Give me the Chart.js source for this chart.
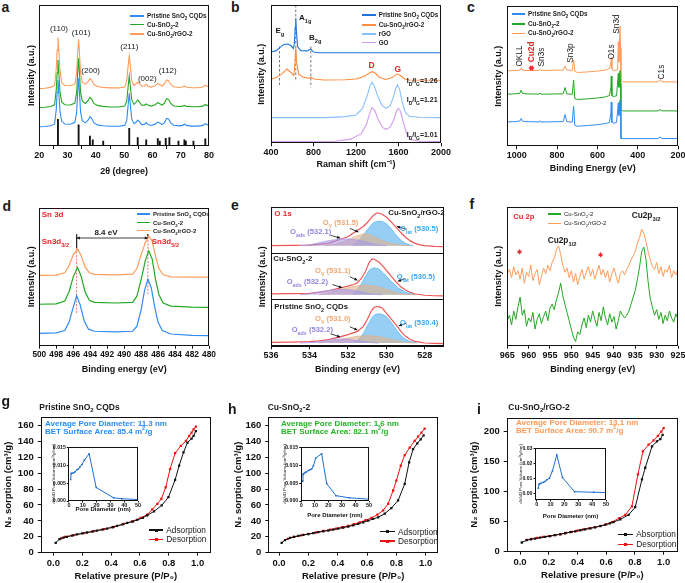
<!DOCTYPE html>
<html>
<head>
<meta charset="utf-8">
<script src="https://cdn.jsdelivr.net/npm/chart.js@4.4.1/dist/chart.umd.min.js"></script>
<style>
  body { margin:0; width:685px; height:583px; position:relative; overflow:hidden; background:#fff;
         font-family:"Liberation Sans", Arial, sans-serif; }
  canvas { position:absolute; }
  .t { position:absolute; white-space:nowrap; line-height:1; color:#1a1a1a; }
  .t sub, .t sup { font-size:70%; line-height:0; }
  .ln { position:absolute; height:1.3px; }
  .mk { position:absolute; width:3px; height:3px; }
</style>
</head>
<body>
<script>
// ---------- a: XRD ----------
const aTicks = [20, 30, 40, 50, 60, 70, 80];
const aBlue = [[20,13.6],[22,13.8],[24,14.3],[25.4,15.5],[26.0,26],[26.3,38],[26.6,46.8],[26.9,38],[27.3,25],[27.9,17.5],[29,15.6],[31,15.4],[32.6,16.8],[33.2,24],[33.6,39],[33.9,48],[34.2,38],[34.6,24],[35.2,18],[36.3,16.4],[37.3,18.5],[37.9,20.8],[38.5,19.6],[39.3,16.5],[40.5,15],[42.5,14.4],[45,14],[48,14],[50.2,14.6],[50.9,18],[51.4,29],[51.8,37.4],[52.2,29],[52.7,19],[53.5,15.8],[54.3,17],[54.8,18.4],[55.4,17.3],[56.2,15.2],[57.2,15.3],[57.8,16.6],[58.4,15.3],[59.5,14.6],[61,15.5],[61.8,17],[62.5,16.4],[63.4,15.2],[64.3,16.6],[65,19.6],[65.7,19.2],[66.4,16.6],[67.5,14.7],[69.5,14.3],[70.7,14.6],[71.3,15.6],[72,14.6],[74,14.1],[76,14.1],[77.8,14.6],[78.6,15.8],[79.3,15.3],[80,14.2]];
const aGreen = [[20,27.3],[22,27.5],[24,28],[25.4,29.2],[26.0,40],[26.3,52],[26.6,61],[26.9,52],[27.3,39],[27.9,31.2],[29,29.3],[31,29.1],[32.6,30.5],[33.2,38],[33.6,53],[33.9,62.2],[34.2,52],[34.6,38],[35.2,31.8],[36.3,30.2],[37.3,32.3],[37.9,34.5],[38.5,33.3],[39.3,30.2],[40.5,28.8],[42.5,28.1],[45,27.7],[48,27.7],[50.2,28.3],[50.9,31.7],[51.4,42],[51.8,49.6],[52.2,42],[52.7,32.7],[53.5,29.5],[54.3,31.2],[54.8,32.6],[55.4,31.1],[56.2,28.9],[57.2,29],[57.8,29.8],[58.4,29],[59.5,28.3],[61,29.2],[61.8,30.7],[62.5,30.1],[63.4,28.9],[64.3,30.6],[65,33.6],[65.7,33.1],[66.4,30.3],[67.5,28.4],[69.5,28],[70.7,28.3],[71.3,28.8],[72,28.1],[74,27.8],[76,27.8],[77.8,28.3],[78.6,29.3],[79.3,29],[80,27.9]];
const aOrange = [[20,40.7],[22,41],[24,41.6],[25.4,43],[26.0,55],[26.3,68],[26.6,77],[26.9,68],[27.3,54],[27.9,45],[29,42.9],[31,42.7],[32.6,44],[33.2,52],[33.6,67],[33.9,75.7],[34.2,66],[34.6,52],[35.2,45.2],[36.3,43.7],[37.3,45.8],[37.9,47.8],[38.5,46.6],[39.3,43.6],[40.5,42.2],[42.5,41.6],[45,41.2],[48,41.2],[50.2,41.8],[50.9,46],[51.4,56.5],[51.8,63.8],[52.2,56.5],[52.7,46],[53.5,42.9],[54.3,44.3],[54.8,45.2],[55.4,44.2],[56.2,42.4],[57.2,42.6],[57.8,43.8],[58.4,42.6],[59.5,41.8],[61,42.8],[61.8,44.3],[62.5,43.8],[63.4,42.4],[64.3,44.2],[65,46.8],[65.7,46.3],[66.4,43.8],[67.5,42],[69.5,41.5],[70.7,41.8],[71.3,42.6],[72,41.7],[74,41.3],[76,41.3],[77.8,41.8],[78.6,43],[79.3,42.6],[80,41.4]];
const aRef = [[26.6,19],[33.9,15],[37.9,7],[38.9,4.3],[42.6,3.5],[51.8,12.5],[54.8,6],[57.8,4.3],[61.9,5.2],[62.6,3.5],[64.7,5.4],[66,6],[69.2,3.5],[71.3,4.3],[71.8,3.5],[74.5,3.5],[78.7,5]];

// ---------- b: Raman ----------
const bTicks = [400, 800, 1200, 1600, 2000];
const bPristine = [[400,66],[450,67],[480,69],[520,71.5],[560,71.8],[590,70.5],[610,68.5],[620,72],[628,84],[633,90.4],[640,80],[650,70],[680,67],[740,66.8],[775,68],[800,66],[850,65.5],[2000,65.5]];
const bCuRgo = [[400,46.3],[450,47.5],[500,50],[550,53.7],[590,51],[615,49],[625,58],[633,69.2],[642,58],[660,50],[700,48],[760,47],[775,48],[800,46.5],[900,45.8],[1100,45.9],[1200,46.5],[1280,48.5],[1320,50.5],[1350,51.8],[1380,50.8],[1420,47.8],[1480,46.2],[1540,47.5],[1580,49.8],[1595,50.1],[1620,48.8],[1660,46.5],[1700,45.8],[2000,45.6]];
const bRgo = [[400,18.6],[900,18.6],[1100,19.3],[1200,20.5],[1260,25],[1300,33],[1330,41],[1350,44.1],[1370,42],[1400,35],[1440,28],[1480,25.3],[1520,27],[1550,33],[1575,40],[1590,42.2],[1610,39],[1635,30],[1660,23],[1700,19.5],[1800,18.8],[2000,18.6]];
const bGo = [[400,1.2],[1000,1.5],[1150,3],[1250,7],[1300,14],[1330,22],[1350,25.8],[1375,24],[1410,17],[1450,11.5],[1480,10.1],[1520,11.5],[1555,17],[1585,24],[1600,25.3],[1620,23],[1650,14],[1680,6],[1720,2.5],[1800,1.5],[2000,1.2]];
const bModes = [[480,70,42],[633,100,44.6],[775,70,40.5]];   // position, top, bottom

// ---------- c: XPS survey ----------
const cTicks = [1000, 800, 600, 400, 200];
const cPristine = [[1047,17.4],[1010,17.6],[985,18],[978,19.8],[972,18],[960,17.6],[890,17.4],[885,18.2],[880,17.3],[770,17.6],[760,22.6],[752,17.6],[725,17.2],[718,28.6],[712,15],[700,14.3],[650,14.8],[600,15.4],[560,16.2],[540,17],[533,24],[531,31.6],[528,17],[520,16.5],[505,17],[496,31],[493,22],[488,33],[485,25],[483,5.6],[470,5.5],[300,5.5],[287,6.7],[282,5.6],[200,5.5]];
const cCu = [[1047,37.1],[1010,37.4],[985,37.8],[978,40],[972,37.8],[960,37.4],[890,37.2],[885,38],[880,37.1],[770,37.4],[760,41.9],[752,37.4],[725,37],[718,47.1],[712,34],[700,33.4],[650,33.8],[600,34.4],[560,35.2],[540,36.2],[533,42],[531,50],[528,36],[520,35.5],[505,36],[496,52],[493,42],[488,54],[485,45],[483,25.5],[470,25.2],[300,25.2],[287,26.3],[282,25.3],[200,25.2]];
const cCuRgo = [[1047,53.8],[1010,54],[985,54.2],[978,55.8],[972,54.3],[960,54],[890,54.1],[885,55],[880,54.1],[770,54.3],[760,57.1],[752,54.4],[725,54],[718,61.4],[712,53.4],[700,52.6],[650,53],[600,53.6],[560,54.3],[540,55.5],[533,60],[531,63.3],[528,55],[520,54],[500,54.5],[496,74.5],[493,60],[488,85.7],[485,70],[483,46],[470,45.9],[300,45.9],[287,47.6],[282,46],[200,45.9]];

// ---------- d: Sn 3d ----------
const dTicks = [500, 498, 496, 494, 492, 490, 488, 486, 484, 482, 480];
const dPristine = [[500,9.0],[498,9.3],[497,11],[496.5,17],[496,28],[495.6,36.2],[495.2,30],[494.7,18],[494.2,12],[493.5,10.5],[491,10],[489,10.5],[488.5,14],[488,26],[487.6,40],[487.2,48.3],[486.8,42],[486.4,28],[486,17],[485.5,11],[484.5,8.5],[482,7.5],[480,7.3]];
const dCu = [[500,30.1],[498,30.4],[497,32.5],[496.5,39],[496,50],[495.5,56.8],[495.1,51],[494.6,39],[494.1,33],[493.5,31.5],[491,31],[489,31.5],[488.5,36],[488,48],[487.5,62],[487.1,68.9],[486.7,63],[486.3,48],[485.9,37],[485.4,31],[484.5,28.8],[482,28],[480,27.9]];
const dCuRgo = [[500,51],[498,51.3],[497,53],[496.5,58],[496,66],[495.5,70.1],[495.1,66],[494.6,57],[494.1,53],[493.5,51.8],[491,51.5],[489,52],[488.5,56],[488,66],[487.5,75],[487.1,79.4],[486.7,76],[486.3,65],[485.9,56],[485.4,51.5],[484.5,50],[482,49.8],[480,49.8]];
const dGuides = [[495.6,70.9,23.5],[487.2,79.4,37.6]];

// ---------- e: O 1s (three stacked spectra, 100 units each) ----------
const eTicks = [536, 534, 532, 530, 528];
const eBase = [216.7, 111, 7.1];
const eTopRed = [[536,216.7],[535,217.2],[534,218.1],[533.5,219.5],[533,221.7],[532.5,229],[532,236],[531.5,250],[531.2,258],[531,266],[530.8,276],[530.65,283],[530.5,287],[530.35,286.5],[530.2,284],[530,278.3],[529.75,268],[529.5,256.5],[529.25,245],[529,234.8],[528.75,227],[528.5,221.7],[528.25,218.5],[528,216.7],[527.5,215.2],[527,214.5]];
const eTopBlue = [[531.8,216.7],[531.5,224],[531.3,234.8],[531.1,245],[531,250.7],[530.85,258],[530.7,265.2],[530.5,268.8],[530.37,269.6],[530.2,268.5],[530,263.8],[529.85,258],[529.7,250.7],[529.55,242],[529.4,234.8],[529.2,227],[529,221.7],[528.8,218.5],[528.6,216.7]];
const eTopOrange = [[533.2,216.7],[532.8,218.5],[532.5,221.7],[532.2,225.5],[532,229],[531.75,234],[531.5,238.4],[531.2,242],[531,241.2],[530.8,238.4],[530.55,234],[530.3,229],[530.05,225],[529.8,221.7],[529.5,219.3],[529.2,217.5],[528.8,216.7]];
const eTopPurple = [[534.5,216.7],[534.1,218],[533.8,220.3],[533.4,224],[533,227.5],[532.5,230.4],[532.05,231.2],[531.5,229],[531,223.9],[530.5,218.8],[530,216.7]];
const eMidRed = [[536,112.7],[535,113.3],[534,114.1],[533.5,116.5],[533,119.7],[532.5,124.6],[532,129.6],[531.7,133],[531.5,137],[531.3,146],[531.1,160],[531,170],[530.9,180],[530.75,188],[530.6,187],[530.5,184.5],[530.35,180],[530.2,173.9],[530,163.4],[529.75,151],[529.5,138.7],[529.25,128],[529,121.1],[528.75,116],[528.5,112.7],[528,109.9],[527.5,108.9],[527,108.5]];
const eMidBlue = [[531.8,111],[531.6,118],[531.4,128.2],[531.25,138],[531.1,149.3],[530.9,163.4],[530.75,167.5],[530.63,169],[530.45,167.5],[530.3,163.4],[530.15,157.5],[530,150.7],[529.8,142],[529.6,133.8],[529.4,126.5],[529.2,121.1],[529,116.5],[528.8,114.1],[528.5,111]];
const eMidOrange = [[533.5,111],[533.1,114.5],[532.8,117.6],[532.5,121],[532.2,123.9],[531.9,127],[531.6,129.6],[531.1,131.7],[530.6,129.6],[530.3,126.5],[530,122.5],[529.75,119],[529.5,115.5],[529.2,113],[529,111.7],[528.5,111]];
const eMidPurple = [[534.5,111],[534.1,112.5],[533.8,114.1],[533.4,117.5],[533,120.4],[532.6,122],[532.2,122.5],[531.8,121.3],[531.5,119],[531.1,115.5],[530.8,112.7],[530.2,111]];
const eBotRed = [[536,8.6],[535,9.2],[534,10],[533.5,11.8],[533,14.3],[532.5,19.3],[532,25],[531.5,32.1],[531.2,42.9],[531,57.1],[530.8,75],[530.65,83],[530.52,85.7],[530.35,85],[530.2,82.1],[530,71.4],[529.75,59],[529.5,46.4],[529.2,30],[529,21.4],[528.75,14.5],[528.5,10.7],[528,7.1],[527.5,6.2],[527,5.7]];
const eBotBlue = [[531.7,7.1],[531.5,13],[531.3,21.4],[531.15,31],[531,42.9],[530.85,54],[530.7,64.3],[530.55,68.8],[530.37,70],[530.2,68.5],[530,64.3],[529.8,54.5],[529.6,42.9],[529.4,31],[529.2,21.4],[529,15],[528.8,10.7],[528.4,7.1]];
const eBotOrange = [[533.5,7.1],[533.1,9.5],[532.7,12.1],[532.35,15],[532,17.9],[531.5,21.4],[531,22.9],[530.5,21.4],[530,17.1],[529.75,14.6],[529.5,12.1],[529.2,9.5],[529,8],[528.5,7.1]];
const eBotPurple = [[534.5,7.1],[534.1,7.8],[533.7,8.6],[533.3,10.8],[533,12.9],[532.6,14.9],[532.3,15.7],[532,15],[531.6,12.9],[531.3,11],[531,9.3],[530.7,7.9],[530.4,7.1]];

// ---------- f: Cu 2p ----------
const fTicks = [965, 960, 955, 950, 945, 940, 935, 930, 925];
const fE = [965,964.5,964,963.5,963,962.5,962,961.5,961,960.5,960,959.5,959,958.5,958,957.5,957,956.5,956,955.5,955,954.5,954,953.5,953,952.5,952,951.5,951,950.5,950,949.5,949,948.5,948,947.5,947,946.5,946,945.5,945,944.5,944,943.5,943,942.5,942,941.5,941,940.5,940,939.5,939,938.5,938,937.5,937,936.5,936,935.5,935,934.5,934,933.5,933,932.5,932,931.5,931,930.5,930,929.5,929,928.5,928,927.5,927,926.5,926,925.5,925];
const fCuRgo = [52,55,49,57,51,54,48,56,45,53, 50,58,47,52,55,44,50,56,52,58, 54,60,63,69,72,66,58,53,56,49, 54,46,52,44,50,55,48,53,57,50, 55,48,53,58,51,55,49,54,46,52, 56,50,45,52,54,51,55,58,62,65, 68,74,78,84,81,75,68,62,57,55, 60,52,57,50,55,53,58,49,54,51,56];
const fCu = [18,22,15,25,19,28,35,22,26,14, 20,17,24,12,19,23,16,21,25,18, 27,30,26,33,38,45,36,30,24,18, 12,6,3,10,8,15,20,13,22,17, 25,19,14,24,18,28,20,15,23,17, 21,12,18,25,22,20,22,25,30,35, 40,48,57,68,71,62,46,34,28,22, 26,19,24,16,22,18,25,20,17,23,19];

// ---------- g, h, i: N2 sorption ----------
const pTicks = [0, 0.2, 0.4, 0.6, 0.8, 1.0];
const ghTicksY = [0, 20, 40, 60, 80, 100, 120, 140, 160];
const iTicksY = [0, 50, 100, 150, 200];
const gAds = [[0.016,12.5],[0.042,17],[0.07,19],[0.093,20],[0.13,21.6],[0.163,22.9],[0.2,24.2],[0.233,25.4],[0.27,26.6],[0.302,27.9],[0.34,29.1],[0.372,30.4],[0.41,32],[0.442,33.7],[0.48,35.5],[0.512,37.4],[0.55,39.2],[0.581,41.2],[0.62,43.8],[0.651,47],[0.698,52],[0.751,59.5],[0.798,69.8],[0.844,91.5],[0.872,109.4],[0.902,126],[0.93,138.5],[0.958,143.5],[0.972,146.8],[0.988,153]];
const gDes = [[0.988,158.4],[0.972,155],[0.958,151],[0.942,146.8],[0.919,140.5],[0.884,134.3],[0.844,125.2],[0.809,105.2],[0.779,82.3],[0.749,67.8],[0.721,61.5],[0.686,54.5],[0.651,47.8],[0.605,43.7],[0.547,39.5],[0.488,36.2],[0.419,32.4],[0.349,29.5],[0.279,27],[0.209,24.5],[0.14,22],[0.081,20],[0.053,17.9]];
const hAds = [[0.018,12.5],[0.041,15.8],[0.075,18.7],[0.104,20],[0.132,21.2],[0.166,22.3],[0.2,23.3],[0.234,24.6],[0.268,25.8],[0.302,26.8],[0.336,27.9],[0.37,29.1],[0.404,30.4],[0.438,31.6],[0.472,32.8],[0.506,34.4],[0.54,36.2],[0.574,38.2],[0.608,40.3],[0.642,42.4],[0.676,44.5],[0.721,49.1],[0.766,56.1],[0.812,65.7],[0.857,86.5],[0.887,113.5],[0.914,130.1],[0.943,137.6],[0.966,142.6],[0.986,147.6]];
const hDes = [[0.993,155.9],[0.971,150.9],[0.948,145.9],[0.925,140.5],[0.891,132.2],[0.857,122.7],[0.83,109.4],[0.8,90.6],[0.778,78.2],[0.744,61.5],[0.71,53.2],[0.671,47.8],[0.63,43.7],[0.59,40.8],[0.55,38.2],[0.51,35.8],[0.47,33.7],[0.43,32],[0.39,30.4],[0.35,29],[0.3,27.3],[0.25,25.4],[0.2,23.6],[0.15,21.8],[0.1,19.8],[0.06,17.5]];
const iAds = [[0.012,15.3],[0.047,19.2],[0.075,20.6],[0.105,21.9],[0.14,23.3],[0.174,24.7],[0.21,26],[0.244,27.4],[0.28,29],[0.314,30.7],[0.35,32.4],[0.384,34],[0.42,35.7],[0.453,37.3],[0.49,38.9],[0.523,40.5],[0.56,42.6],[0.593,44.9],[0.625,47],[0.651,49.3],[0.698,53.7],[0.756,61.4],[0.802,74],[0.849,120.5],[0.872,139.7],[0.919,175.3],[0.953,183.6],[0.977,187.4],[0.993,194.5]];
const iDes = [[1.0,205.5],[0.984,200],[0.96,192.9],[0.93,185.2],[0.895,178],[0.856,167.1],[0.821,128.8],[0.779,75.6],[0.733,61.4],[0.691,55.9],[0.64,49.3],[0.6,45.5],[0.56,43],[0.52,40.8],[0.48,39],[0.44,37],[0.4,35],[0.36,33],[0.32,31.2],[0.28,29.3],[0.24,27.5],[0.2,26],[0.16,24.5],[0.12,23],[0.08,21.3],[0.045,19.5]];
// insets: pore size distribution
const poreTicks = [0, 10, 20, 30, 40, 50];
const ghPoreY = [0, 0.005, 0.010, 0.015];
const iPoreY = [0, 0.01, 0.02, 0.03];
const gPore = [[1.2,0.00605],[1.5,0.0077],[2,0.0078],[3.2,0.0079],[4.3,0.0082],[5.6,0.0087],[6.8,0.009],[8,0.0096],[9.5,0.0103],[11.2,0.0115],[14.6,0.0133],[19.7,0.0038],[32.3,0.0009],[38.3,0.00065],[50,0.0004]];
const hPore = [[1,0.0056],[1.2,0.0075],[1.8,0.0077],[2.7,0.008],[3.8,0.0082],[5.2,0.0086],[6.4,0.0088],[7.6,0.009],[8.9,0.0099],[10.6,0.0121],[15,0.0133],[18.7,0.0049],[25.6,0.0015],[35.5,0.0009],[50,0.0005]];
const iPore = [[1.2,0.0034],[1.7,0.0061],[2.3,0.0064],[3.1,0.0068],[4.8,0.0074],[6,0.008],[7.2,0.009],[9.2,0.0101],[11.4,0.0151],[14.5,0.0259],[18.6,0.0106],[27.3,0.0011],[41.1,0.0007],[50,0.0005]];

// ---------- colours ----------
const BLUE = '#2e8cf2', GREEN = '#22a822', ORANGE = '#ff9c5a', RED = '#e8262b';

Chart.defaults.font.family = '"Liberation Sans", Arial, sans-serif';
Chart.defaults.color = '#111';
Chart.defaults.animation = false;
Chart.defaults.plugins.legend.display = false;
Chart.defaults.plugins.tooltip.enabled = false;

const pts = arr => arr.map(p => ({ x: p[0], y: p[1] }));
const line = (arr, color, w, extra) => Object.assign({ data: pts(arr), borderColor: color, borderWidth: w || 1.1, pointRadius: 0, fill: false, tension: 0 }, extra || {});

const frame = {
  id: 'frame',
  afterDraw(c) {
    const a = c.chartArea, g = c.ctx;
    g.save();
    g.strokeStyle = '#111';
    g.lineWidth = 1;
    g.strokeRect(Math.round(a.left) + 0.5, Math.round(a.top) + 0.5, Math.round(a.right - a.left) - 1, Math.round(a.bottom - a.top) - 1);
    g.restore();
  }
};

function head(g, x1, y1, x2, y2) {
  const ang = Math.atan2(y2 - y1, x2 - x1), L = 3.5;
  g.beginPath();
  g.moveTo(x2, y2);
  g.lineTo(x2 - L * Math.cos(ang - 0.45), y2 - L * Math.sin(ang - 0.45));
  g.lineTo(x2 - L * Math.cos(ang + 0.45), y2 - L * Math.sin(ang + 0.45));
  g.closePath();
  g.fill();
}
function arrows(list) {
  return {
    id: 'arrows',
    afterDatasetsDraw(c) {
      const g = c.ctx, xs = c.scales.x, ys = c.scales.y;
      g.save();
      list.forEach(a => {
        const x1 = xs.getPixelForValue(a[0]), y1 = ys.getPixelForValue(a[1]);
        const x2 = xs.getPixelForValue(a[2]), y2 = ys.getPixelForValue(a[3]);
        g.strokeStyle = g.fillStyle = '#111';
        g.lineWidth = 0.8;
        g.beginPath(); g.moveTo(x1, y1); g.lineTo(x2, y2); g.stroke();
        head(g, x1, y1, x2, y2);
        if (a[4]) head(g, x2, y2, x1, y1);
      });
      g.restore();
    }
  };
}

function xAxis(min, max, ticks, title, o) {
  o = o || {};
  return {
    type: 'linear', min: min, max: max, reverse: !!o.rev, offset: false,
    afterBuildTicks: s => { s.ticks = ticks.map(v => ({ value: v })); },
    ticks: { autoSkip: false, maxRotation: 0, padding: o.pad != null ? o.pad : 1, color: '#111',
             font: { size: o.fs || 9, weight: 'bold' }, callback: o.fmt || (v => String(v)) },
    grid: { display: true, drawOnChartArea: false, drawTicks: true, tickLength: o.tl || 3, color: '#111', lineWidth: 1 },
    border: { display: false },
    title: { display: true, text: title, color: '#111', padding: 0, font: { size: o.tf || 9, weight: 'bold' } }
  };
}
function yAxis(min, max, title, o) {
  o = o || {};
  const ax = {
    type: 'linear', min: min, max: max,
    ticks: { display: false },
    grid: { display: false },
    border: { display: false },
    title: { display: true, text: title, color: '#111', padding: 0, font: { size: o.tf || 9, weight: o.tw || 'bold' } }
  };
  if (o.ticks) {
    ax.afterBuildTicks = s => { s.ticks = o.ticks.map(v => ({ value: v })); };
    ax.ticks = { display: true, autoSkip: false, padding: o.pad != null ? o.pad : 3, color: '#111',
                 font: { size: o.fs || 9, weight: 'bold' }, callback: o.fmt || (v => String(v)) };
    ax.grid = { display: true, drawOnChartArea: false, drawTicks: true, tickLength: o.tl || 3, color: '#111', lineWidth: 1 };
  }
  return ax;
}

// place a chart so that its plot area lands on box {L,T,R,B}; ytc / xtc are the centres of the axis titles
function panel(box, ytc, xtc, tfy, tfx, xs, ys, datasets, extra) {
  const P = { left: 2, top: 8, right: 12, bottom: 2 };
  const left = Math.round(ytc - tfy * 0.6 - P.left), top = Math.round(box.T - P.top);
  const w = Math.round(box.R + P.right - left), h = Math.round(xtc + tfx * 0.6 + P.bottom - top);
  const yW = box.L - left - P.left, xH = top + h - P.bottom - box.B;
  const cv = document.createElement('canvas');
  cv.width = w; cv.height = h;
  cv.style.left = left + 'px'; cv.style.top = top + 'px';
  cv.style.width = w + 'px'; cv.style.height = h + 'px';
  document.body.appendChild(cv);
  xs.afterFit = s => { s.height = xH; };
  ys.afterFit = s => { s.width = yW; };
  return new Chart(cv, {
    type: 'line',
    data: { datasets: datasets },
    options: { responsive: false, devicePixelRatio: 1, layout: { padding: P }, scales: { x: xs, y: ys } },
    plugins: [frame].concat(extra || [])
  });
}

// ---------- text helpers ----------
function T(x, y, html, s, o) {
  o = o || {};
  const d = document.createElement('div');
  d.className = 't';
  d.innerHTML = html;
  d.style.left = x + 'px';
  d.style.top = y + 'px';
  d.style.fontSize = s + 'px';
  d.style.fontWeight = o.n ? 'normal' : 'bold';
  if (o.c) d.style.color = o.c;
  let tf = o.mid ? 'translate(-50%,-50%)' : 'translateY(-50%)';
  if (o.rot) tf += ' rotate(-90deg)';
  d.style.transform = tf;
  document.body.appendChild(d);
}
function leg(x1, x2, y, color, html, s, o) {
  o = o || {};
  const d = document.createElement('div');
  d.className = 'ln';
  d.style.left = x1 + 'px'; d.style.top = (y - 0.65) + 'px';
  d.style.width = (x2 - x1) + 'px'; d.style.background = color;
  document.body.appendChild(d);
  if (o.mk) {
    const m = document.createElement('div');
    m.className = 'mk';
    m.style.left = ((x1 + x2) / 2 - 1.5) + 'px'; m.style.top = (y - 1.5) + 'px';
    m.style.background = color;
    document.body.appendChild(m);
  }
  T(x2 + 3, y, html, s, { n: o.n });
}

// ---------- panel a ----------
panel({ L: 39.3, T: 5, R: 209.3, B: 146 }, 31.7, 171.7, 9, 9,
  xAxis(20, 80, aTicks, '2θ (degree)'),
  yAxis(0, 100, 'Intensity (a.u.)'),
  [ line(aBlue, BLUE), line(aGreen, GREEN), line(aOrange, ORANGE),
    { type: 'bar', data: pts(aRef), backgroundColor: '#111', barThickness: 1.2, grouped: false } ]);

// ---------- panel b ----------
panel({ L: 271, T: 5, R: 440.7, B: 143.3 }, 261.7, 165, 9, 9,
  xAxis(400, 2000, bTicks, 'Raman shift (cm⁻¹)'),
  yAxis(0, 100, 'Intensity (a.u.)'),
  [ line(bPristine, '#1f74dc'), line(bCuRgo, '#ff8d3f'), line(bRgo, '#86c0ff'), line(bGo, '#d39cf0') ]
  .concat(bModes.map(m => line([[m[0], m[1]], [m[0], m[2]]], '#555', 0.8, { borderDash: [2.5, 2] }))));

// ---------- panel c ----------
panel({ L: 507.3, T: 6, R: 677.7, B: 146.3 }, 498.3, 168.3, 9, 9,
  xAxis(200, 1047, cTicks, 'Binding Energy (eV)', { rev: true }),
  yAxis(0, 100, 'Intensity (a.u.)'),
  [ line(cPristine, BLUE, 1), line(cCu, GREEN, 1), line(cCuRgo, ORANGE, 1) ]);

// ---------- panel d ----------
panel({ L: 39.3, T: 208.3, R: 209.3, B: 345.7 }, 31.7, 370, 9, 9,
  xAxis(480, 500, dTicks, 'Binding energy (eV)', { rev: true, fs: 8.3 }),
  yAxis(0, 100, 'Intensity (a.u.)'),
  [ line(dPristine, BLUE, 1.2), line(dCu, GREEN, 1.2), line(dCuRgo, ORANGE, 1.2) ]
  .concat(dGuides.map(m => line([[m[0], m[1]], [m[0], m[2]]], '#e05050', 0.8, { borderDash: [2, 1.5] })))
  .concat(dGuides.map(m => line([[m[0], 81], [m[0], m[1]]], '#222', 0.7))),
  [ arrows([[495.6, 78.2, 487.2, 78.2, true]]) ]);

// ---------- panel e ----------
const eY = yAxis(0, 300, 'Intensity (a.u.)');
eY.afterBuildTicks = s => { s.ticks = [0, 100, 200, 300].map(v => ({ value: v })); };
eY.grid = { display: true, drawOnChartArea: true, drawTicks: false, color: '#111', lineWidth: 1 };
const fillSet = (arr, base, border, bg) => line(arr, border, 0.8, { fill: { value: base }, backgroundColor: bg });
const PUR = ['#a89be8', 'rgba(160,148,232,0.55)'], ORG = ['#e3b089', 'rgba(228,178,138,0.6)'], SKY = ['#5db5f0', 'rgba(105,185,240,0.7)'];
panel({ L: 271, T: 206.7, R: 443.7, B: 346.3 }, 262.3, 370, 9, 9,
  xAxis(527, 536, eTicks, 'Binding energy (eV)', { rev: true }),
  eY,
  [ fillSet(eTopPurple, eBase[0], PUR[0], PUR[1]), fillSet(eTopOrange, eBase[0], ORG[0], ORG[1]), fillSet(eTopBlue, eBase[0], SKY[0], SKY[1]),
    fillSet(eMidPurple, eBase[1], PUR[0], PUR[1]), fillSet(eMidOrange, eBase[1], ORG[0], ORG[1]), fillSet(eMidBlue, eBase[1], SKY[0], SKY[1]),
    fillSet(eBotPurple, eBase[2], PUR[0], PUR[1]), fillSet(eBotOrange, eBase[2], ORG[0], ORG[1]), fillSet(eBotBlue, eBase[2], SKY[0], SKY[1]),
    line(eTopRed, '#ee5555', 1.2), line(eMidRed, '#ee5555', 1.2), line(eBotRed, '#ee5555', 1.2) ],
  [ arrows([[532.9, 239, 532.4, 233], [531.9, 254, 531.45, 246], [528.95, 252, 529.45, 258],
            [532.8, 133, 532.3, 126], [531.9, 150, 531.5, 142], [529.0, 146, 529.4, 140],
            [532.9, 27, 532.4, 20], [531.9, 42, 531.5, 35], [528.95, 50, 529.35, 44]]) ]);

// ---------- panel f ----------
panel({ L: 507.3, T: 206.7, R: 677.7, B: 345.7 }, 498.3, 370, 9, 9,
  xAxis(925, 965, fTicks, 'Binding energy (eV)', { rev: true }),
  yAxis(0, 100, 'Intensity (a.u.)'),
  [ { data: fE.map((e, i) => ({ x: e, y: fCu[i] })), borderColor: GREEN, borderWidth: 1, pointRadius: 0, fill: false },
    { data: fE.map((e, i) => ({ x: e, y: fCuRgo[i] })), borderColor: ORANGE, borderWidth: 1, pointRadius: 0, fill: false } ]);

// ---------- panels g, h, i ----------
const iso = (arr, color) => line(arr, color, 1, { pointRadius: 1.6, pointStyle: 'rect', pointBackgroundColor: color, pointBorderColor: color, pointBorderWidth: 0 });
const p1 = v => v.toFixed(1);
panel({ L: 40.7, T: 415, R: 210.7, B: 552.7 }, 8.3, 576.7, 9.5, 9.5,
  xAxis(-0.088, 1.093, pTicks, 'Relative presure (P/P₀)', { fmt: p1, fs: 9.5, tf: 9.5, pad: 2 }),
  yAxis(0, 171, 'N₂ sorption (cm³/g)', { ticks: ghTicksY, fs: 9.5, tf: 9.5, pad: 4 }),
  [ iso(gAds, '#111'), iso(gDes, '#ee1111') ]);
panel({ L: 268.3, T: 415, R: 438.3, B: 552.7 }, 238.3, 576.7, 9.5, 9.5,
  xAxis(-0.073, 1.084, pTicks, 'Relative presure (P/P₀)', { fmt: p1, fs: 9.5, tf: 9.5, pad: 2 }),
  yAxis(0, 171, 'N₂ sorption (cm³/g)', { ticks: ghTicksY, fs: 9.5, tf: 9.5, pad: 4 }),
  [ iso(hAds, '#111'), iso(hDes, '#ee1111') ]);
panel({ L: 506.7, T: 415.7, R: 677.7, B: 551.7 }, 475, 575.7, 9.5, 9.5,
  xAxis(-0.093, 1.1, pTicks, 'Relative presure (P/P₀)', { fmt: p1, fs: 9.5, tf: 9.5, pad: 2 }),
  yAxis(0, 223, 'N₂ sorption (cm³/g)', { ticks: iTicksY, fs: 9.5, tf: 9.5, pad: 4 }),
  [ iso(iAds, '#111'), iso(iDes, '#ee1111') ]);

// insets
const poreLine = arr => line(arr, '#1f6fd2', 1, { pointRadius: 1.1, pointStyle: 'rect', pointBackgroundColor: '#1f6fd2', pointBorderWidth: 0 });
function inset(box, ytc, xtc, ymin, ymax, yt, fmt, xmin, arr) {
  panel(box, ytc, xtc, 4.3, 6,
    xAxis(xmin, 50, poreTicks, 'Pore Diameter (nm)', { fs: 5.5, tf: 6, tl: 1.5, pad: 0 }),
    yAxis(ymin, ymax, 'dV/dD Pore Volume (cm³/g/nm)', { ticks: yt, fs: 5.2, tf: 4.3, tw: 'normal', tl: 1.5, pad: 1, fmt: fmt }),
    [ poreLine(arr) ]);
}
inset({ L: 68.3, T: 446.7, R: 138.3, B: 501 }, 53.3, 509, 0, 0.0152, ghPoreY, v => v.toFixed(3), -0.5, gPore);
inset({ L: 300.7, T: 446.7, R: 369, B: 501 }, 285, 515, 0, 0.0152, ghPoreY, v => v.toFixed(3), -0.5, hPore);
inset({ L: 535, T: 448.3, R: 605.7, B: 500 }, 521, 516.7, -0.0045, 0.0305, iPoreY, v => v.toFixed(2), -1.2, iPore);

// ---------- texts ----------
// panel letters
T(1.5, 7, 'a', 14); T(231, 6.7, 'b', 14); T(467, 7, 'c', 14);
T(2.5, 206, 'd', 14); T(231, 205, 'e', 14); T(469.5, 203.7, 'f', 14);
T(1.5, 401, 'g', 14); T(228, 408.8, 'h', 14); T(477, 408.5, 'i', 14);

// a
T(59, 29.3, '(110)', 8, { mid: 1, n: 1 }); T(81, 32.7, '(101)', 8, { mid: 1, n: 1 });
T(90.7, 71, '(200)', 8, { mid: 1, n: 1 }); T(129.3, 46.7, '(211)', 8, { mid: 1, n: 1 });
T(147.3, 79, '(002)', 8, { mid: 1, n: 1 }); T(167.7, 71, '(112)', 8, { mid: 1, n: 1 });
leg(130, 144, 16, BLUE, 'Pristine SnO<sub>2</sub> CQDs', 6.3);
leg(130, 144, 24.7, GREEN, 'Cu-SnO<sub>2</sub>-2', 6.3);
leg(130, 144, 34, ORANGE, 'Cu-SnO<sub>2</sub>/rGO-2', 6.3);

// b
leg(361.7, 375.7, 15, '#1f74dc', 'Pristine SnO<sub>2</sub> CQDs', 6.3);
leg(361.7, 375.7, 25, '#ff8d3f', 'Cu-SnO<sub>2</sub>/rGO-2', 6.3);
leg(361.7, 375.7, 34, '#86c0ff', 'rGO', 6.3);
leg(361.7, 375.7, 42.7, '#d39cf0', 'GO', 6.3);
T(275.5, 31, 'E<sub>g</sub>', 8); T(299, 18.3, 'A<sub>1g</sub>', 8); T(309, 38.3, 'B<sub>2g</sub>', 8);
T(371.7, 65, 'D', 8.5, { mid: 1, c: RED }); T(397.7, 69, 'G', 8.5, { mid: 1, c: RED });
T(406.7, 80.7, 'I<sub>D</sub>/I<sub>G</sub>=1.26', 7); T(406.7, 100, 'I<sub>D</sub>/I<sub>G</sub>=1.21', 7); T(406.7, 135, 'I<sub>D</sub>/I<sub>G</sub>=1.01', 7);

// c
leg(511.7, 525, 14, BLUE, 'Pristine SnO<sub>2</sub> CQDs', 6.3);
leg(511.7, 525, 24, GREEN, 'Cu-SnO<sub>2</sub>-2', 6.3);
leg(511.7, 525, 33.3, ORANGE, 'Cu-SnO<sub>2</sub>/rGO-2', 6.3);
T(519, 56, 'OKLL', 8.3, { mid: 1, rot: 1, n: 1 });
T(530.7, 55.8, '<span style="font-size:7px">✱</span> Cu2d', 8.3, { mid: 1, rot: 1, c: RED });
T(541, 57, 'Sn3s', 8.3, { mid: 1, rot: 1, n: 1 });
T(570, 53.3, 'Sn3p', 8.3, { mid: 1, rot: 1, n: 1 });
T(610.5, 51.5, 'O1s', 8.3, { mid: 1, rot: 1, n: 1 });
T(615.5, 24, 'Sn3d', 8.3, { mid: 1, rot: 1, n: 1 });
T(661, 72, 'C1s', 8.3, { mid: 1, rot: 1, n: 1 });

// d
leg(136.7, 150, 214, BLUE, 'Pristine SnO<sub>2</sub> CQDs', 6);
leg(136.7, 150, 222.7, GREEN, 'Cu-SnO<sub>2</sub>-2', 6);
leg(136.7, 150, 230.7, ORANGE, 'Cu-SnO<sub>2</sub>/rGO-2', 6);
T(41.7, 215, 'Sn 3d', 8, { c: RED });
T(41.7, 242, 'Sn3d<sub>3/2</sub>', 8, { c: RED });
T(151.7, 242, 'Sn3d<sub>5/2</sub>', 8, { c: RED });
T(106, 233.3, '8.4 eV', 8, { mid: 1 });

// e
T(274.3, 214, 'O 1s', 8, { c: RED });
T(388.3, 213.3, 'Cu-SnO<sub>2</sub>/rGO-2', 7.8);
T(322.7, 222.7, 'O<sub>V</sub> (531.5)', 7.6, { c: '#f2a873' });
T(290, 231.7, 'O<sub>ads</sub> (532.1)', 7.6, { c: '#8f86e0' });
T(400, 229.3, 'O<sub>lat</sub> (530.5)', 7.6, { c: '#3aa6ee' });
T(273.3, 259.3, 'Cu-SnO<sub>2</sub>-2', 7.8);
T(315, 271, 'O<sub>V</sub> (531.1)', 7.6, { c: '#f2a873' });
T(286.7, 281.7, 'O<sub>ads</sub> (532.2)', 7.6, { c: '#8f86e0' });
T(396.7, 277.3, 'O<sub>lat</sub> (530.5)', 7.6, { c: '#3aa6ee' });
T(274.3, 307.3, 'Pristine SnO<sub>2</sub> CQDs', 7.8);
T(315, 319, 'O<sub>V</sub> (531.0)', 7.6, { c: '#f2a873' });
T(291.7, 330, 'O<sub>ads</sub> (532.2)', 7.6, { c: '#8f86e0' });
T(400, 322.7, 'O<sub>lat</sub> (530.4)', 7.6, { c: '#3aa6ee' });

// f
T(513.3, 217.3, 'Cu 2p', 7.6, { c: RED });
leg(548.3, 561, 214, GREEN, 'Cu-SnO<sub>2</sub>-2', 6, { n: 1 });
leg(548.3, 561, 223.3, ORANGE, 'Cu-SnO<sub>2</sub>/rGO-2', 6, { n: 1 });
T(631.7, 215, 'Cu2p<sub>3/2</sub>', 8.3);
T(547.7, 240, 'Cu2p<sub>1/2</sub>', 8.3);
T(519, 252, '✱', 6, { mid: 1, c: RED }); T(600.7, 255, '✱', 6, { mid: 1, c: RED });

// g, h, i
T(39.3, 406.7, 'Pristine SnO<sub>2</sub> CQDs', 8.5);
T(45, 424, 'Average Pore Diameter: 11.3 nm', 8, { c: '#2a8cf5' });
T(45, 431.7, 'BET Surface Area: 85.4 m<sup>2</sup>/g', 8, { c: '#2a8cf5' });
leg(149.3, 163.3, 530, '#111', 'Adsorption', 8.3, { mk: 1, n: 1 });
leg(149.3, 163.3, 539.3, '#ee1111', 'Desorption', 8.3, { mk: 1, n: 1 });

T(267.7, 406.7, 'Cu-SnO<sub>2</sub>-2', 8.5);
T(281, 424, 'Average Pore Diameter: 1.6 nm', 8, { c: '#26b326' });
T(281, 431.7, 'BET Surface Area: 82.1 m<sup>2</sup>/g', 8, { c: '#26b326' });
leg(380, 395, 531.7, '#111', 'Adsorption', 8.3, { mk: 1, n: 1 });
leg(380, 395, 541, '#ee1111', 'Desorption', 8.3, { mk: 1, n: 1 });

T(508.3, 406.7, 'Cu-SnO<sub>2</sub>/rGO-2', 8.5);
T(516, 423.3, 'Average Pore Diameter: 13.1 nm', 8, { c: '#ff9955' });
T(516, 430.7, 'BET Surface Area: 90.7 m<sup>2</sup>/g', 8, { c: '#ff9955' });
leg(618.3, 633.3, 534.3, '#111', 'Absorption', 8.3, { mk: 1, n: 1 });
leg(618.3, 633.3, 544.3, '#ee1111', 'Desorption', 8.3, { mk: 1, n: 1 });
</script>
</body>
</html>
